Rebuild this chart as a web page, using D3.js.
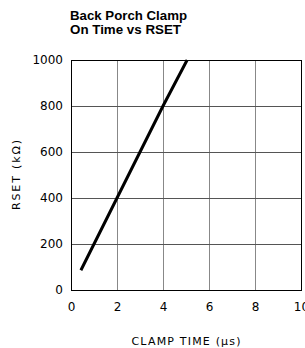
<!DOCTYPE html>
<html><head><meta charset="utf-8">
<script src="https://cdn.jsdelivr.net/npm/d3@7"></script>
<style>body{margin:0;background:#fff}svg{display:block}</style>
</head><body>
<script>
const titleLines = ["Back Porch Clamp", "On Time vs RSET"];
const xTicks = [0, 2, 4, 6, 8, 10];
const yTicks = [0, 200, 400, 600, 800, 1000];
const clampTime = [0.43, 2, 4, 5.05];
const rset = [86, 400, 800, 1000];
const xLabel = "CLAMP TIME (\u03BCs)";
const yLabel = "RSET (k\u03A9)";

const W = 305, H = 348;
const m = {left: 71, right: 4, top: 60, bottom: 58};
const svg = d3.select("body").append("svg").attr("width", W).attr("height", H);
const x = d3.scaleLinear().domain([0, 10]).range([m.left, W - m.right]);
const y = d3.scaleLinear().domain([0, 1000]).range([H - m.bottom, m.top]);

// title
const tf = "'Liberation Sans Narrow','Arial Narrow','Liberation Sans',sans-serif";
svg.append("text").attr("x", 70).attr("y", 20).text(titleLines[0])
  .attr("font-family", tf).attr("font-weight", "bold").attr("font-size", 13.5)
  .attr("textLength", 117).attr("lengthAdjust", "spacingAndGlyphs");
svg.append("text").attr("x", 70).attr("y", 34).text(titleLines[1])
  .attr("font-family", tf).attr("font-weight", "bold").attr("font-size", 13.5)
  .attr("textLength", 111).attr("lengthAdjust", "spacingAndGlyphs");

// grid
const g = svg.append("g");
g.selectAll(".gx").data(xTicks.slice(1, -1)).join("line")
  .attr("x1", d => x(d)).attr("x2", d => x(d)).attr("y1", y(0)).attr("y2", y(1000))
  .attr("stroke", "#888").attr("stroke-width", 1).attr("shape-rendering", "crispEdges");
g.selectAll(".gy").data(yTicks.slice(1, -1)).join("line")
  .attr("y1", d => y(d)).attr("y2", d => y(d)).attr("x1", x(0)).attr("x2", x(10))
  .attr("stroke", "#555").attr("stroke-width", 1).attr("shape-rendering", "crispEdges");
g.append("rect").attr("x", x(0)).attr("y", y(1000)).attr("width", x(10) - x(0)).attr("height", y(0) - y(1000))
  .attr("fill", "none").attr("stroke", "#000").attr("stroke-width", 1).attr("shape-rendering", "crispEdges");

// axes labels via d3 axis
const fontTick = "'DejaVu Sans',sans-serif";
const ax = svg.append("g").attr("transform", `translate(0,${y(0)})`)
  .call(d3.axisBottom(x).tickValues(xTicks).tickSize(0).tickPadding(12).tickFormat(d3.format("d")));
ax.select(".domain").remove();
ax.selectAll("text").attr("font-family", fontTick).attr("font-size", 12).attr("fill", "#000");
const ay = svg.append("g").attr("transform", `translate(${x(0)},0)`)
  .call(d3.axisLeft(y).tickValues(yTicks).tickSize(0).tickPadding(8).tickFormat(d3.format("d")));
ay.select(".domain").remove();
ay.selectAll("text").attr("font-family", fontTick).attr("font-size", 12).attr("fill", "#000");

// data line
const pts = clampTime.map((d, i) => [d, rset[i]]);
svg.append("path").datum(pts)
  .attr("d", d3.line().x(d => x(d[0])).y(d => y(d[1])))
  .attr("fill", "none").attr("stroke", "#000").attr("stroke-width", 3);

// axis titles
svg.append("text").attr("x", (x(0) + x(10)) / 2).attr("y", 345).attr("text-anchor", "middle")
  .attr("font-family", fontTick).attr("font-size", 11).attr("textLength", 109)
  .attr("lengthAdjust", "spacing").text(xLabel);
svg.append("text").attr("transform", `translate(20,${(y(0) + y(1000)) / 2}) rotate(-90)`)
  .attr("text-anchor", "middle").attr("font-family", fontTick).attr("font-size", 11)
  .attr("textLength", 70).attr("lengthAdjust", "spacing").text(yLabel);
</script>
</body></html>
